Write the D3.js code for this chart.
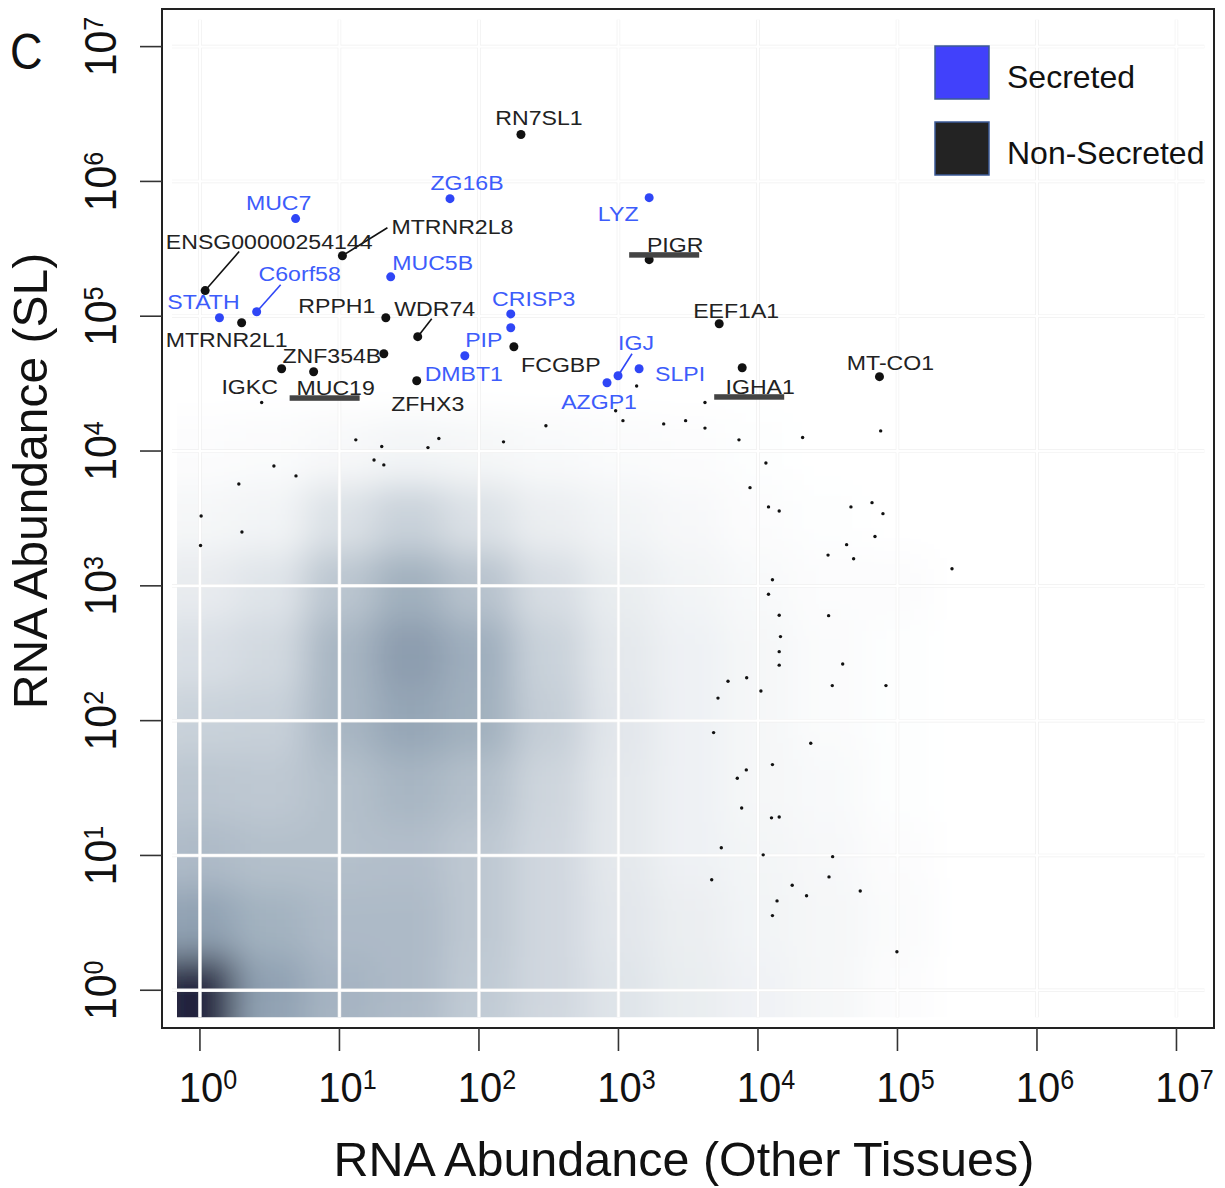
<!DOCTYPE html>
<html>
<head>
<meta charset="utf-8">
<script src="https://cdn.jsdelivr.net/npm/d3@7"></script>
<style>
  body { margin: 0; background: #fff; }
  svg text { font-family: "Liberation Sans", Arial, Helvetica, sans-serif; }
</style>
</head>
<body>
<svg id="chart" width="1225" height="1188"></svg>
<script>
// ---- data ----
const geneNames = ["RN7SL1", "MUC7", "ZG16B", "ENSG00000254144", "MTRNR2L8", "MUC5B", "C6orf58",
  "STATH", "RPPH1", "WDR74", "CRISP3", "MTRNR2L1", "ZNF354B", "PIP", "DMBT1", "FCGBP", "IGKC",
  "MUC19", "ZFHX3", "LYZ", "PIGR", "EEF1A1", "IGJ", "SLPI", "AZGP1", "IGHA1", "MT-CO1"];
const geneOther = [200, 4.85, 62, 1.09, 10.5, 23.3, 2.55, 1.38, 21.5, 36.4, 169, 1.99, 20.8, 169,
  79.2, 178, 3.85, 6.53, 35.8, 1660, 1660, 5275, 993, 1406, 828, 7710, 74300];
const geneSL = [2230000, 530000, 745000, 155000, 281000, 196000, 108000, 97500, 97500, 70500,
  104000, 89500, 52700, 82200, 50900, 59400, 40800, 38700, 33200, 758000, 262700, 88000, 36200,
  40800, 32100, 41500, 35600];
const geneSecreted = [0, 1, 1, 0, 0, 1, 1, 1, 0, 0, 1, 0, 0, 1, 1, 0, 0, 0, 0, 1, 0, 0, 1, 1, 1, 0, 0];
const underlinedGenes = ["MUC19", "PIGR", "IGHA1"];

// unlabeled outlier genes
const dotOther = [2.77, 13.1, 20.1, 51.6, 43.1, 17.7, 20.8, 3.39, 4.88, 1.90, 1.02, 2.0, 1.01, 150,
  302, 4170, 955, 1077, 2110, 3030, 4170, 7310, 20900, 75800, 11400, 8770, 11900, 14200, 46400,
  65700, 78700, 69000, 43200, 31800, 48500, 246000, 12700, 11900, 14200, 32100, 14500, 14200,
  14200, 40500, 6100, 8300, 10500, 34100, 82700, 5170, 4810, 23900, 12700, 8250, 7110, 7640,
  12500, 14200, 5460, 10900, 34300, 4660, 32300, 17600, 22300, 54100, 13700, 12700, 99100, 1350];
const dotSL = [22900, 12100, 10800, 12400, 10600, 8590, 7890, 7750, 6540, 5700, 3300, 2510, 1990,
  11700, 15400, 22900, 19900, 16800, 15900, 16800, 14800, 12100, 12600, 14100, 8160, 5350, 3850,
  3590, 3850, 4140, 3430, 2320, 2020, 1690, 1590, 1340, 1110, 866, 605, 601, 420, 325, 258, 263,
  196, 208, 166, 182, 182, 147, 81.5, 68, 47.2, 43.1, 37.4, 22.5, 19.0, 19.3, 11.4, 10.1, 9.8,
  6.61, 6.93, 6.01, 5.03, 5.45, 4.60, 3.58, 1.93, 30400];

// smoothed density of all genes: half-decade cells (log10 centres)
const densityXExp = [-0.5, 0, 0.5, 1, 1.5, 2, 2.5, 3, 3.5, 4, 4.5, 5, 5.5];
const densityYExp = [-0.5, 0, 0.5, 1, 1.5, 2, 2.5, 3, 3.5, 4, 4.5];
const densityGrid = [
  [0.95, 1.00, 0.50, 0.42, 0.38, 0.30, 0.24, 0.18, 0.13, 0.09, 0.06, 0.02, 0],
  [0.95, 1.00, 0.52, 0.43, 0.40, 0.32, 0.25, 0.18, 0.13, 0.09, 0.06, 0.02, 0],
  [0.50, 0.52, 0.44, 0.40, 0.40, 0.33, 0.25, 0.17, 0.12, 0.08, 0.06, 0.03, 0],
  [0.38, 0.40, 0.37, 0.37, 0.38, 0.33, 0.25, 0.16, 0.10, 0.07, 0.05, 0.02, 0],
  [0.33, 0.34, 0.33, 0.37, 0.42, 0.37, 0.26, 0.16, 0.10, 0.06, 0.04, 0.01, 0],
  [0.27, 0.28, 0.29, 0.42, 0.50, 0.45, 0.30, 0.17, 0.10, 0.06, 0.03, 0.01, 0],
  [0.20, 0.21, 0.24, 0.42, 0.54, 0.46, 0.28, 0.16, 0.10, 0.06, 0.03, 0.01, 0],
  [0.13, 0.14, 0.18, 0.34, 0.45, 0.36, 0.22, 0.13, 0.08, 0.04, 0.02, 0.02, 0],
  [0.05, 0.06, 0.08, 0.20, 0.28, 0.20, 0.12, 0.08, 0.05, 0.02, 0.01, 0, 0],
  [0.02, 0.02, 0.03, 0.05, 0.07, 0.06, 0.04, 0.03, 0.02, 0.01, 0, 0, 0],
  [0, 0, 0, 0, 0, 0, 0, 0, 0, 0, 0, 0, 0]
];

const tickExp = [0, 1, 2, 3, 4, 5, 6, 7];
const legendLabels = ["Secreted", "Non-Secreted"];

// label placement relative to each dot (px): text centre/baseline, optional leader line end
const labelNudge = {
  "RN7SL1": [18, -9], "MUC7": [-17, -9], "ZG16B": [17, -9],
  "ENSG00000254144": [64, -42, 34, -39], "MTRNR2L8": [110, -22, 45, -28],
  "MUC5B": [42, -7], "C6orf58": [43, -31, 24, -27], "STATH": [-16, -9],
  "RPPH1": [-49, -5], "WDR74": [17, -21, 14, -18], "CRISP3": [23, -8],
  "MTRNR2L1": [-15, 24], "ZNF354B": [-52, 9], "PIP": [-27, 19], "DMBT1": [-1, 25],
  "FCGBP": [47, 25], "IGKC": [-32, 25], "MUC19": [22, 23], "ZFHX3": [11, 30],
  "LYZ": [-31, 23], "PIGR": [26, -8], "EEF1A1": [17, -6], "IGJ": [18, -26, 14, -22],
  "SLPI": [41, 12], "AZGP1": [-8, 26], "IGHA1": [18, 26], "MT-CO1": [11, -7]
};

const blueDot = "#2f46f6";
const blueText = "#3d5cfb";
const blackDot = "#111";

// ---- layout ----
const box = { left: 162, top: 9, right: 1214, bottom: 1028 };
const svg = d3.select("#chart");

const x = d3.scaleLog().domain([10 ** -0.272, 10 ** 7.269]).range([box.left, box.right]);
const y = d3.scaleLog().domain([10 ** -0.28, 10 ** 7.279]).range([box.bottom, box.top]);

const color = d3.scaleLinear()
  .domain([0, 0.15, 0.3, 0.5, 0.7, 1])
  .range(["#ffffff", "#e6eaee", "#c5ced7", "#95a6b6", "#67768d", "#22233c"]);

const defs = svg.append("defs");
defs.append("clipPath").attr("id", "densClip")
  .append("rect")
  .attr("x", 177).attr("y", box.top + 10)
  .attr("width", box.right - 177 - 10).attr("height", y(10 ** -0.2) - box.top - 10);
defs.append("filter").attr("id", "soft")
  .attr("filterUnits", "userSpaceOnUse")
  .attr("x", 0).attr("y", 0).attr("width", 1225).attr("height", 1188)
  .append("feGaussianBlur").attr("stdDeviation", 17);

// density background
const cells = [];
densityYExp.forEach((ey, i) => densityXExp.forEach((ex, j) => {
  cells.push({ ex, ey, v: densityGrid[i][j] });
}));
svg.append("g").attr("clip-path", "url(#densClip)")
  .append("g").attr("filter", "url(#soft)")
  .selectAll("rect").data(cells).join("rect")
  .attr("x", d => x(10 ** (d.ex - 0.25)))
  .attr("width", d => x(10 ** (d.ex + 0.25)) - x(10 ** (d.ex - 0.25)) + 0.5)
  .attr("y", d => y(10 ** (d.ey + 0.25)))
  .attr("height", d => y(10 ** (d.ey - 0.25)) - y(10 ** (d.ey + 0.25)) + 0.5)
  .attr("fill", d => color(d.v));

// grid
const grid = svg.append("g");
const gx0 = x(10 ** -0.2), gx1 = x(10 ** 7.2), gy0 = y(10 ** 7.2), gy1 = y(10 ** -0.2);
[["#efefef", 3.5], ["#ffffff", 2.2]].forEach(([c, w]) => {
  grid.selectAll(null).data(tickExp).join("line")
    .attr("x1", gx0).attr("x2", gx1)
    .attr("y1", d => y(10 ** d)).attr("y2", d => y(10 ** d))
    .attr("stroke", c).attr("stroke-width", w);
  grid.selectAll(null).data(tickExp).join("line")
    .attr("y1", gy0).attr("y2", gy1)
    .attr("x1", d => x(10 ** d)).attr("x2", d => x(10 ** d))
    .attr("stroke", c).attr("stroke-width", w);
});

// unlabeled outliers
svg.append("g").selectAll("circle").data(d3.range(dotOther.length)).join("circle")
  .attr("cx", i => x(dotOther[i])).attr("cy", i => y(dotSL[i]))
  .attr("r", 1.7).attr("fill", blackDot);

// labeled genes
const genes = geneNames.map((name, i) => ({
  name, ox: geneOther[i], sl: geneSL[i], sec: geneSecreted[i] === 1,
  nudge: labelNudge[name]
}));

const gLab = svg.append("g");
gLab.selectAll("line").data(genes.filter(d => d.nudge.length > 2)).join("line")
  .attr("x1", d => x(d.ox)).attr("y1", d => y(d.sl))
  .attr("x2", d => x(d.ox) + d.nudge[2]).attr("y2", d => y(d.sl) + d.nudge[3])
  .attr("stroke", d => d.sec ? blueDot : "#111").attr("stroke-width", 1.6);

gLab.selectAll("circle").data(genes).join("circle")
  .attr("cx", d => x(d.ox)).attr("cy", d => y(d.sl))
  .attr("r", 4.5).attr("fill", d => d.sec ? blueDot : blackDot);

gLab.selectAll("text").data(genes).join("text")
  .attr("transform", d => `translate(${x(d.ox) + d.nudge[0]},${y(d.sl) + d.nudge[1]}) scale(1.1,1)`)
  .attr("text-anchor", "middle")
  .attr("font-size", 21)
  .attr("fill", d => d.sec ? blueText : "#222")
  .text(d => d.name);

gLab.selectAll("rect").data(genes.filter(d => underlinedGenes.includes(d.name))).join("rect")
  .attr("x", d => x(d.ox) + d.nudge[0] - 46)
  .attr("y", d => y(d.sl) + d.nudge[1] + 0.5)
  .attr("width", 70).attr("height", 5.5)
  .attr("fill", "#444");

// legend
const leg = svg.append("g").selectAll("g").data(legendLabels).join("g")
  .attr("transform", (d, i) => `translate(935,${46 + i * 76})`);
leg.append("rect").attr("width", 54).attr("height", 53)
  .attr("fill", (d, i) => i === 0 ? "#4141fb" : "#232323")
  .attr("stroke", "#3b5a96").attr("stroke-width", 1.5);
leg.append("text").attr("x", 72).attr("y", 42)
  .attr("font-size", 32).attr("fill", "#111").text(d => d);

// frame
svg.append("rect")
  .attr("x", box.left).attr("y", box.top)
  .attr("width", box.right - box.left).attr("height", box.bottom - box.top)
  .attr("fill", "none").attr("stroke", "#222").attr("stroke-width", 2);

// x axis
const xa = svg.append("g");
xa.selectAll("line").data(tickExp).join("line")
  .attr("x1", d => x(10 ** d)).attr("x2", d => x(10 ** d))
  .attr("y1", box.bottom).attr("y2", box.bottom + 23)
  .attr("stroke", "#333").attr("stroke-width", 1.6);
xa.selectAll("text").data(tickExp).join("text")
  .attr("transform", d => `translate(${x(10 ** d) + 8},1102) scale(0.93,1)`)
  .attr("text-anchor", "middle").attr("fill", "#111")
  .each(function (d) {
    const t = d3.select(this);
    t.append("tspan").attr("font-size", 43).text("10");
    t.append("tspan").attr("font-size", 27).attr("dy", -13).text(d);
  });

// y axis
const ya = svg.append("g");
ya.selectAll("line").data(tickExp).join("line")
  .attr("y1", d => y(10 ** d)).attr("y2", d => y(10 ** d))
  .attr("x1", box.left).attr("x2", box.left - 22)
  .attr("stroke", "#333").attr("stroke-width", 1.6);
ya.selectAll("text").data(tickExp).join("text")
  .attr("transform", d => `translate(116,${y(10 ** d)}) rotate(-90) scale(0.93,1)`)
  .attr("text-anchor", "middle").attr("fill", "#111")
  .each(function (d) {
    const t = d3.select(this);
    t.append("tspan").attr("font-size", 44).text("10");
    t.append("tspan").attr("font-size", 27).attr("dy", -13).text(d);
  });

// titles
svg.append("text").attr("x", 684).attr("y", 1176)
  .attr("text-anchor", "middle").attr("font-size", 48.5).attr("fill", "#111")
  .text("RNA Abundance (Other Tissues)");
svg.append("text").attr("transform", "translate(47,481) rotate(-90) scale(0.98,1)")
  .attr("text-anchor", "middle").attr("font-size", 49).attr("fill", "#111")
  .text("RNA Abundance (SL)");
svg.append("text").attr("transform", "translate(10,69) scale(0.9,1)")
  .attr("font-size", 50).attr("fill", "#111").text("C");
</script>
</body>
</html>
